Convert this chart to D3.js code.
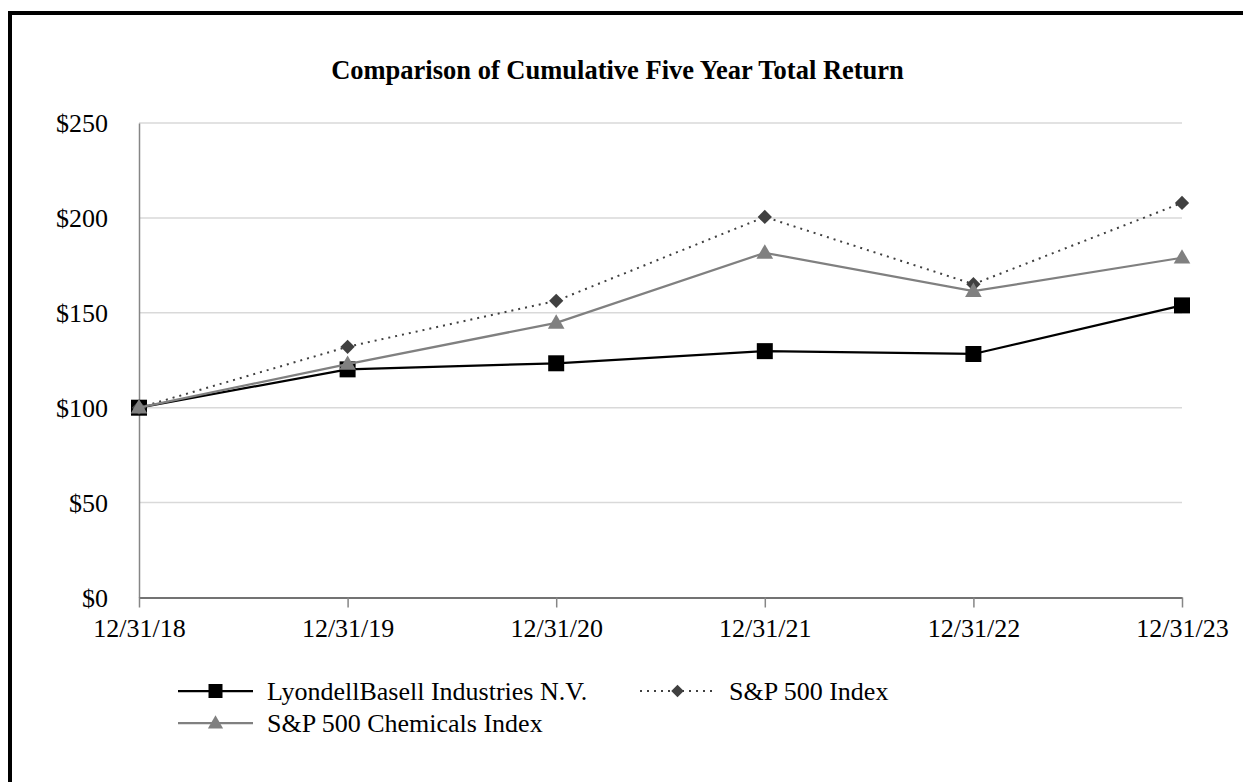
<!DOCTYPE html>
<html>
<head>
<meta charset="utf-8">
<script src="https://cdn.jsdelivr.net/npm/d3@7"></script>
<style>
  html, body { margin: 0; padding: 0; background: #fff; }
  svg { display: block; }
  text { font-family: "Liberation Serif", "Times New Roman", serif; fill: #000; }
</style>
</head>
<body>
<svg id="chart" width="1243" height="782"></svg>
<script>
const categories = ["12/31/18", "12/31/19", "12/31/20", "12/31/21", "12/31/22", "12/31/23"];
const lyondell = [100, 120.2, 123.4, 129.8, 128.3, 153.9];
const sp500 = [100, 132.1, 156.3, 200.5, 165.1, 207.9];
const chemicals = [100, 123.0, 144.7, 181.6, 161.4, 179.0];
const yTicks = [0, 50, 100, 150, 200, 250];
const title = "Comparison of Cumulative Five Year Total Return";
const seriesNames = ["LyondellBasell Industries N.V.", "S&P 500 Index", "S&P 500 Chemicals Index"];

(function () {
const svg = d3.select("#chart");

// outer frame
svg.append("rect")
  .attr("x", 10).attr("y", 13)
  .attr("width", 1400).attr("height", 900)
  .attr("fill", "none").attr("stroke", "#000").attr("stroke-width", 4);

const pLeft = 139, pRight = 1182, pTop = 123, pBottom = 597.5;

const x = d3.scalePoint().domain(categories).range([pLeft, pRight]);
const y = d3.scaleLinear().domain([0, 250]).range([pBottom, pTop]);

// title
svg.append("text")
  .attr("x", 617.5).attr("y", 79)
  .attr("text-anchor", "middle")
  .style("font-size", "26.5px").style("font-weight", "bold")
  .text(title);

// gridlines
svg.append("g")
  .selectAll("line")
  .data(yTicks.filter(d => d > 0))
  .join("line")
  .attr("x1", pLeft).attr("x2", pRight)
  .attr("y1", d => y(d)).attr("y2", d => y(d))
  .attr("stroke", "#d9d9d9").attr("stroke-width", 1.5);

// y axis
const yAxis = d3.axisLeft(y).tickValues(yTicks).tickSize(0).tickPadding(31)
  .tickFormat(d => "$" + d);
const gy = svg.append("g").attr("transform", `translate(${pLeft},0)`).call(yAxis);
gy.select(".domain").attr("stroke", "#868686").attr("stroke-width", 1.5);
gy.selectAll("text").style("font-size", "26px")
  .style("font-family", '"Liberation Serif", "Times New Roman", serif')
  .attr("fill", "#000").attr("dy", "0.34em");

// x axis
const xAxis = d3.axisBottom(x).tickSizeInner(10).tickSizeOuter(0).tickPadding(11);
const gx = svg.append("g").attr("transform", `translate(0,${pBottom})`).call(xAxis);
gx.select(".domain").attr("stroke", "#737373").attr("stroke-width", 2);
gx.selectAll(".tick line").attr("stroke", "#868686").attr("stroke-width", 1.5);
gx.selectAll("text").style("font-size", "26px")
  .style("font-family", '"Liberation Serif", "Times New Roman", serif')
  .attr("fill", "#000");

const series = [
  { name: seriesNames[0], values: lyondell, color: "#000000", markerColor: "#000000", dash: null, width: 2.25, marker: "square" },
  { name: seriesNames[1], values: sp500, color: "#404040", markerColor: "#404040", dash: "2 5", width: 2, marker: "diamond" },
  { name: seriesNames[2], values: chemicals, color: "#808080", markerColor: "#808080", dash: null, width: 2.25, marker: "triangle" }
];

const symbolOf = {
  square: d3.symbolSquare,
  diamond: d3.symbolDiamond2,
  triangle: d3.symbolTriangle
};
const sizeOf = { square: 256, diamond: 130, triangle: 120 };
const legendSizeOf = { square: 196, diamond: 100, triangle: 100 };

const line = d3.line().x((d, i) => x(categories[i])).y(d => y(d));

series.forEach(s => {
  const g = svg.append("g");
  g.append("path")
    .attr("d", line(s.values))
    .attr("fill", "none")
    .attr("stroke", s.color)
    .attr("stroke-width", s.width)
    .attr("stroke-dasharray", s.dash);
  g.selectAll("path.m")
    .data(s.values)
    .join("path")
    .attr("class", "m")
    .attr("transform", (d, i) => `translate(${x(categories[i])},${y(d) + (s.marker === "triangle" ? 1 : 0)})`)
    .attr("d", d3.symbol().type(symbolOf[s.marker]).size(sizeOf[s.marker]))
    .attr("fill", s.markerColor);
});

// legend
const legendItems = [
  { s: series[0], x0: 178, y0: 691 },
  { s: series[1], x0: 640, y0: 691 },
  { s: series[2], x0: 178, y0: 723 }
];
legendItems.forEach(it => {
  const g = svg.append("g");
  const x1 = it.x0, x2 = it.x0 + 75;
  g.append("line")
    .attr("x1", x1).attr("x2", x2).attr("y1", it.y0).attr("y2", it.y0)
    .attr("stroke", it.s.color).attr("stroke-width", it.s.width)
    .attr("stroke-dasharray", it.s.dash);
  g.append("path")
    .attr("transform", `translate(${(x1 + x2) / 2},${it.y0 + (it.s.marker === "triangle" ? 1 : 0)})`)
    .attr("d", d3.symbol().type(symbolOf[it.s.marker]).size(legendSizeOf[it.s.marker]))
    .attr("fill", it.s.markerColor);
  g.append("text")
    .attr("x", x2 + 14).attr("y", it.y0)
    .attr("dy", "0.34em")
    .style("font-size", "26px")
    .text(it.s.name);
});
})();
</script>
</body>
</html>
